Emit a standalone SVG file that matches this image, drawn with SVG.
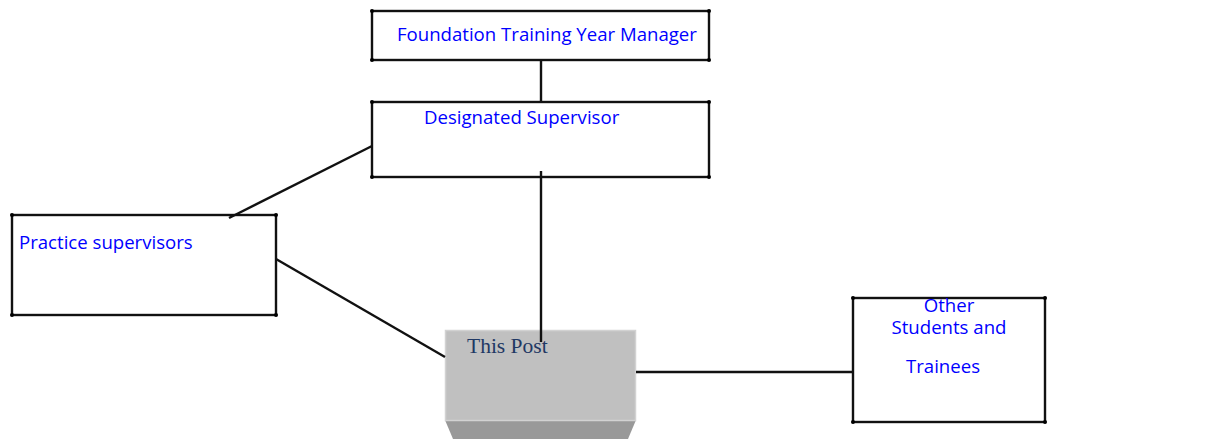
<svg xmlns="http://www.w3.org/2000/svg" width="1231" height="439" viewBox="0 0 1231 439">
<style>
.box{fill:#fff;stroke:#111;stroke-width:2.4}
.dot{fill:#000}
.lbl{font-family:"Open Sans","Liberation Sans",sans-serif;font-size:18.6px;fill:#0000ff}
.conn{stroke:#111;stroke-width:2.4;fill:none}
.post{font-family:"Liberation Serif","DejaVu Serif",serif;font-size:21.5px;fill:#1f3864}
</style>
<rect width="1231" height="439" fill="#fff"/>
<g id="node-manager">
<rect class="box" x="372" y="11" width="337" height="49"/>
<circle class="dot" cx="372" cy="11" r="2"/><circle class="dot" cx="709" cy="11" r="2"/><circle class="dot" cx="372" cy="60" r="2"/><circle class="dot" cx="709" cy="60" r="2"/>
<text class="lbl" x="397" y="41">Foundation Training Year Manager</text>
</g>
<g id="node-designated">
<rect class="box" x="372" y="102" width="337" height="75"/>
<circle class="dot" cx="372" cy="102" r="2"/><circle class="dot" cx="709" cy="102" r="2"/><circle class="dot" cx="372" cy="177" r="2"/><circle class="dot" cx="709" cy="177" r="2"/>
<text class="lbl" x="424" y="124">Designated Supervisor</text>
</g>
<g id="node-practice">
<rect class="box" x="12" y="215" width="264" height="100"/>
<circle class="dot" cx="12" cy="215" r="2"/><circle class="dot" cx="276" cy="215" r="2"/><circle class="dot" cx="12" cy="315" r="2"/><circle class="dot" cx="276" cy="315" r="2"/>
<text class="lbl" x="19" y="249">Practice supervisors</text>
</g>
<g id="node-post">
<polygon points="445,420 636,420 628,439 453,439" fill="#999"/>
<rect x="445" y="330" width="191" height="91" fill="#c0c0c0"/>
<rect x="445.5" y="330.5" width="190" height="90" fill="none" stroke="#d2d2d2" stroke-width="1.5"/>
<text class="post" x="467" y="353">This Post</text>
</g>
<g id="node-other">
<rect class="box" x="853" y="298" width="192" height="124"/>
<circle class="dot" cx="853" cy="298" r="2"/><circle class="dot" cx="1045" cy="298" r="2"/><circle class="dot" cx="853" cy="422" r="2"/><circle class="dot" cx="1045" cy="422" r="2"/>
<text class="lbl" x="949" y="312" text-anchor="middle">Other</text>
<text class="lbl" x="949" y="334" text-anchor="middle">Students and</text>
<text class="lbl" x="943" y="373" text-anchor="middle">Trainees</text>
</g>
<g id="connectors">
<line class="conn" x1="541" y1="60" x2="541" y2="102"/>
<line class="conn" x1="229" y1="218" x2="372" y2="146"/>
<line class="conn" x1="276" y1="259" x2="445" y2="357"/>
<line class="conn" x1="636" y1="372" x2="853" y2="372"/>
<line class="conn" x1="541" y1="171" x2="541" y2="342"/>
</g>
</svg>
